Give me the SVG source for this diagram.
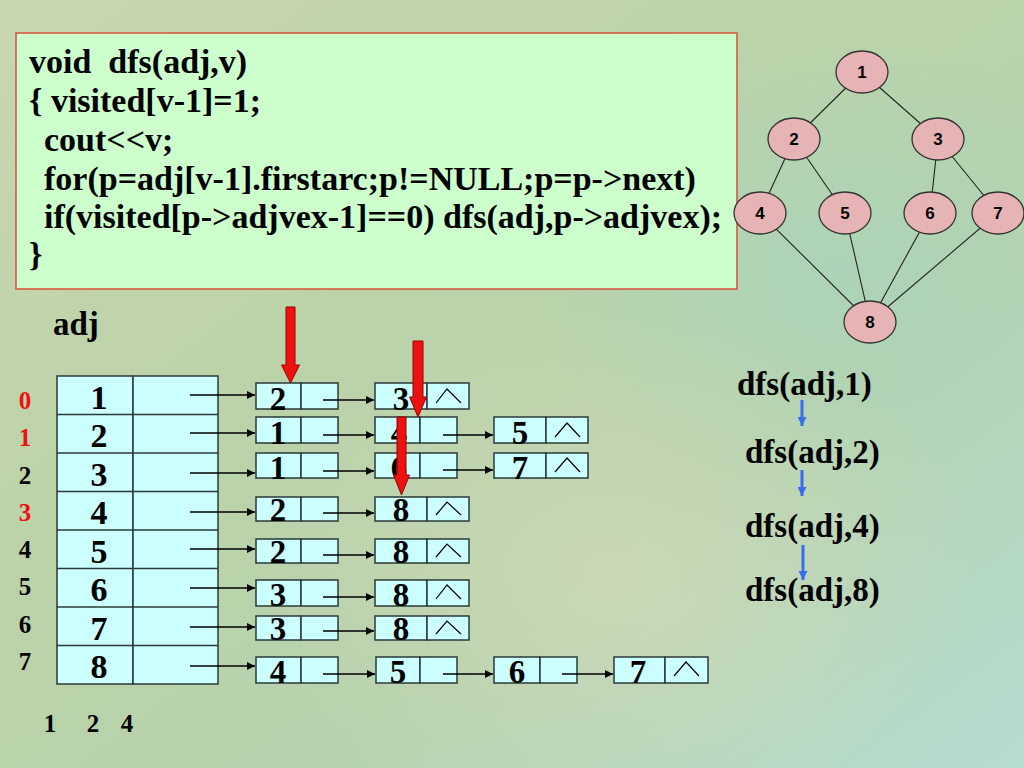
<svg xmlns="http://www.w3.org/2000/svg" width="1024" height="768" viewBox="0 0 1024 768">
<defs>
<linearGradient id="bg" x1="0" y1="0" x2="1" y2="1">
<stop offset="0" stop-color="#c9d6b2"/>
<stop offset="0.35" stop-color="#bcd3a8"/>
<stop offset="0.65" stop-color="#b6d2ae"/>
<stop offset="1" stop-color="#b5dcd0"/>
</linearGradient>
<radialGradient id="glow1" cx="0.82" cy="0.35" r="0.3">
<stop offset="0" stop-color="#a8d4bc" stop-opacity="0.7"/>
<stop offset="1" stop-color="#a8d4bc" stop-opacity="0"/>
</radialGradient>
<radialGradient id="glow2" cx="0.6" cy="0.75" r="0.35">
<stop offset="0" stop-color="#d6dcb8" stop-opacity="0.6"/>
<stop offset="1" stop-color="#d6dcb8" stop-opacity="0"/>
</radialGradient>
<marker id="ah" viewBox="0 0 10 10" refX="10" refY="5" markerWidth="10" markerHeight="8" markerUnits="userSpaceOnUse" orient="auto">
<path d="M0,0 L10,5 L0,10 z" fill="#000"/>
</marker>
<marker id="bh" viewBox="0 0 10 10" refX="10" refY="5" markerWidth="10" markerHeight="9" markerUnits="userSpaceOnUse" orient="auto">
<path d="M0,0 L10,5 L0,10 z" fill="#3a6cf0"/>
</marker>
<style>
.code{font-family:"Liberation Serif","Times New Roman",serif;font-weight:bold;font-size:34px;fill:#000;white-space:pre}
.big{font-family:"Liberation Serif","Times New Roman",serif;font-weight:bold;font-size:33px;fill:#000}
.dig{font-family:"Liberation Serif","Times New Roman",serif;font-weight:bold;font-size:33px;fill:#000;text-anchor:middle}
.tdig{font-family:"Liberation Serif","Times New Roman",serif;font-weight:bold;font-size:34px;fill:#000;text-anchor:middle}
.idx{font-family:"Liberation Serif","Times New Roman",serif;font-weight:bold;font-size:25px;fill:#000;text-anchor:middle}
.red{fill:#ee1111}
.cell{fill:#ccffff;stroke:#2a3a3a;stroke-width:1.5}
.nul{fill:none;stroke:#000;stroke-width:1.2}
.ptr{stroke:#000;stroke-width:1.3;fill:none;marker-end:url(#ah)}
.gv{fill:#e6b4b4;stroke:#333;stroke-width:1.3}
.gl{font-family:"Liberation Sans",Arial,sans-serif;font-weight:bold;font-size:17px;fill:#000;text-anchor:middle}
.ge{stroke:#222;stroke-width:1.1}
.rarr{fill:#ee1111;stroke:#990000;stroke-width:1}
.blu{stroke:#3a6cf0;stroke-width:3;fill:none;marker-end:url(#bh)}
</style>
</defs>
<rect width="1024" height="768" fill="url(#bg)"/>
<rect width="1024" height="768" fill="url(#glow1)"/>
<rect width="1024" height="768" fill="url(#glow2)"/>

<g id="code">
<rect x="16" y="33" width="721" height="256" fill="#ccffcc" stroke="#d8503c" stroke-width="1.5"/>
<text class="code" x="29" y="73">void  dfs(adj,v)</text>
<text class="code" x="29" y="112">{ visited[v-1]=1;</text>
<text class="code" x="44" y="151">cout&lt;&lt;v;</text>
<text class="code" x="44" y="190">for(p=adj[v-1].firstarc;p!=NULL;p=p-&gt;next)</text>
<text class="code" x="44" y="228">if(visited[p-&gt;adjvex-1]==0) dfs(adj,p-&gt;adjvex);</text>
<text class="code" x="29" y="266">}</text>
</g>

<g id="graph-edges">
<line class="ge" x1="862" y1="72" x2="794" y2="139"/>
<line class="ge" x1="862" y1="72" x2="938" y2="139"/>
<line class="ge" x1="794" y1="139" x2="760" y2="213"/>
<line class="ge" x1="794" y1="139" x2="845" y2="213"/>
<line class="ge" x1="938" y1="139" x2="930" y2="213"/>
<line class="ge" x1="938" y1="139" x2="998" y2="213"/>
<line class="ge" x1="760" y1="213" x2="870" y2="322"/>
<line class="ge" x1="845" y1="213" x2="870" y2="322"/>
<line class="ge" x1="930" y1="213" x2="870" y2="322"/>
<line class="ge" x1="998" y1="213" x2="870" y2="322"/>
</g>
<g id="v1"><ellipse class="gv" cx="862" cy="72" rx="26" ry="21"/><text class="gl" x="862" y="78">1</text></g>
<g id="v2"><ellipse class="gv" cx="794" cy="139" rx="26" ry="21"/><text class="gl" x="794" y="145">2</text></g>
<g id="v3"><ellipse class="gv" cx="938" cy="139" rx="26" ry="21"/><text class="gl" x="938" y="145">3</text></g>
<g id="v4"><ellipse class="gv" cx="760" cy="213" rx="26" ry="21"/><text class="gl" x="760" y="219">4</text></g>
<g id="v5"><ellipse class="gv" cx="845" cy="213" rx="26" ry="21"/><text class="gl" x="845" y="219">5</text></g>
<g id="v6"><ellipse class="gv" cx="930" cy="213" rx="26" ry="21"/><text class="gl" x="930" y="219">6</text></g>
<g id="v7"><ellipse class="gv" cx="998" cy="213" rx="26" ry="21"/><text class="gl" x="998" y="219">7</text></g>
<g id="v8"><ellipse class="gv" cx="870" cy="322" rx="26" ry="21"/><text class="gl" x="870" y="328">8</text></g>

<text class="big" x="53" y="335">adj</text>

<g id="indices">
<text class="idx red" x="25" y="409">0</text>
<text class="idx red" x="25" y="446">1</text>
<text class="idx" x="25" y="484">2</text>
<text class="idx red" x="25" y="521">3</text>
<text class="idx" x="25" y="558">4</text>
<text class="idx" x="25" y="595">5</text>
<text class="idx" x="25" y="633">6</text>
<text class="idx" x="25" y="670">7</text>
</g>

<g id="table">
<rect class="cell" x="57" y="376" width="76" height="308"/>
<rect class="cell" x="133" y="376" width="85" height="308"/>
<g stroke="#2a3a3a" stroke-width="1.5">
<line x1="57" y1="414.5" x2="218" y2="414.5"/>
<line x1="57" y1="453" x2="218" y2="453"/>
<line x1="57" y1="491.5" x2="218" y2="491.5"/>
<line x1="57" y1="530" x2="218" y2="530"/>
<line x1="57" y1="568.5" x2="218" y2="568.5"/>
<line x1="57" y1="607" x2="218" y2="607"/>
<line x1="57" y1="645.5" x2="218" y2="645.5"/>
</g>
<text class="tdig" x="99" y="409">1</text>
<text class="tdig" x="99" y="447">2</text>
<text class="tdig" x="99" y="486">3</text>
<text class="tdig" x="99" y="524">4</text>
<text class="tdig" x="99" y="563">5</text>
<text class="tdig" x="99" y="601">6</text>
<text class="tdig" x="99" y="640">7</text>
<text class="tdig" x="99" y="678">8</text>
</g>

<g id="list-nodes">
<g id="n0a"><rect class="cell" x="256" y="383" width="45" height="26"/><rect class="cell" x="301" y="383" width="37" height="26"/><text class="dig" x="278" y="410">2</text></g>
<g id="n0b"><rect class="cell" x="375" y="383" width="52" height="26"/><rect class="cell" x="427" y="383" width="42" height="26"/><text class="dig" x="401" y="410">3</text><path class="nul" d="M436,403 L447,389 L461,403"/></g>
<g id="n1a"><rect class="cell" x="256" y="417" width="45" height="26"/><rect class="cell" x="301" y="417" width="37" height="26"/><text class="dig" x="278" y="444">1</text></g>
<g id="n1b"><rect class="cell" x="375" y="417" width="45" height="26"/><rect class="cell" x="420" y="417" width="37" height="26"/><text class="dig" x="399" y="444">4</text></g>
<g id="n1c"><rect class="cell" x="494" y="417" width="52" height="26"/><rect class="cell" x="546" y="417" width="42" height="26"/><text class="dig" x="520" y="444">5</text><path class="nul" d="M555,437 L567,423 L580,437"/></g>
<g id="n2a"><rect class="cell" x="256" y="453" width="45" height="25"/><rect class="cell" x="301" y="453" width="37" height="25"/><text class="dig" x="278" y="479">1</text></g>
<g id="n2b"><rect class="cell" x="375" y="453" width="45" height="25"/><rect class="cell" x="420" y="453" width="37" height="25"/><text class="dig" x="399" y="479">6</text></g>
<g id="n2c"><rect class="cell" x="494" y="453" width="52" height="25"/><rect class="cell" x="546" y="453" width="42" height="25"/><text class="dig" x="520" y="479">7</text><path class="nul" d="M555,472 L567,458 L580,472"/></g>
<g id="n3a"><rect class="cell" x="256" y="497" width="45" height="24"/><rect class="cell" x="301" y="497" width="37" height="24"/><text class="dig" x="278" y="521">2</text></g>
<g id="n3b"><rect class="cell" x="375" y="497" width="52" height="24"/><rect class="cell" x="427" y="497" width="42" height="24"/><text class="dig" x="401" y="521">8</text><path class="nul" d="M436,515 L447,502 L461,515"/></g>
<g id="n4a"><rect class="cell" x="256" y="539" width="45" height="24"/><rect class="cell" x="301" y="539" width="37" height="24"/><text class="dig" x="278" y="563">2</text></g>
<g id="n4b"><rect class="cell" x="375" y="539" width="52" height="24"/><rect class="cell" x="427" y="539" width="42" height="24"/><text class="dig" x="401" y="563">8</text><path class="nul" d="M436,557 L447,544 L461,557"/></g>
<g id="n5a"><rect class="cell" x="256" y="580" width="45" height="26"/><rect class="cell" x="301" y="580" width="37" height="26"/><text class="dig" x="278" y="606">3</text></g>
<g id="n5b"><rect class="cell" x="375" y="580" width="52" height="26"/><rect class="cell" x="427" y="580" width="42" height="26"/><text class="dig" x="401" y="606">8</text><path class="nul" d="M436,599 L447,585 L461,599"/></g>
<g id="n6a"><rect class="cell" x="256" y="616" width="45" height="24"/><rect class="cell" x="301" y="616" width="37" height="24"/><text class="dig" x="278" y="640">3</text></g>
<g id="n6b"><rect class="cell" x="375" y="616" width="52" height="24"/><rect class="cell" x="427" y="616" width="42" height="24"/><text class="dig" x="401" y="640">8</text><path class="nul" d="M436,634 L447,621 L461,634"/></g>
<g id="n7a"><rect class="cell" x="256" y="657" width="45" height="26"/><rect class="cell" x="301" y="657" width="37" height="26"/><text class="dig" x="278" y="683">4</text></g>
<g id="n7b"><rect class="cell" x="376" y="657" width="44" height="26"/><rect class="cell" x="420" y="657" width="37" height="26"/><text class="dig" x="398" y="683">5</text></g>
<g id="n7c"><rect class="cell" x="494" y="657" width="46" height="26"/><rect class="cell" x="540" y="657" width="37" height="26"/><text class="dig" x="517" y="683">6</text></g>
<g id="n7d"><rect class="cell" x="614" y="657" width="51" height="26"/><rect class="cell" x="665" y="657" width="43" height="26"/><text class="dig" x="638" y="683">7</text><path class="nul" d="M674,676 L686,662 L699,676"/></g>
</g>

<g id="connectors">
<line class="ptr" x1="190" y1="395" x2="255" y2="395"/>
<line class="ptr" x1="190" y1="433" x2="255" y2="433"/>
<line class="ptr" x1="190" y1="473" x2="255" y2="473"/>
<line class="ptr" x1="190" y1="512" x2="255" y2="512"/>
<line class="ptr" x1="190" y1="549" x2="255" y2="549"/>
<line class="ptr" x1="190" y1="588" x2="255" y2="588"/>
<line class="ptr" x1="190" y1="627" x2="255" y2="627"/>
<line class="ptr" x1="190" y1="666" x2="255" y2="666"/>
<line class="ptr" x1="323" y1="400" x2="374" y2="400"/>
<line class="ptr" x1="323" y1="435" x2="374" y2="435"/>
<line class="ptr" x1="323" y1="471" x2="374" y2="471"/>
<line class="ptr" x1="323" y1="513" x2="374" y2="513"/>
<line class="ptr" x1="323" y1="555" x2="374" y2="555"/>
<line class="ptr" x1="323" y1="597" x2="374" y2="597"/>
<line class="ptr" x1="323" y1="631" x2="374" y2="631"/>
<line class="ptr" x1="323" y1="674" x2="375" y2="674"/>
<line class="ptr" x1="443" y1="435" x2="493" y2="435"/>
<line class="ptr" x1="443" y1="470" x2="493" y2="470"/>
<line class="ptr" x1="443" y1="674" x2="493" y2="674"/>
<line class="ptr" x1="562" y1="674" x2="613" y2="674"/>
</g>

<g id="red-arrows">
<path class="rarr" d="M286,307 L295,307 L295,365 L299.5,365 L290.5,383 L281.5,365 L286,365 z"/>
<path class="rarr" d="M413,341 L423,341 L423,397 L426.5,397 L418,417 L409.5,397 L413,397 z"/>
<path class="rarr" d="M397,417 L406,417 L406,475 L409.5,475 L401.5,495 L393.5,475 L397,475 z"/>
</g>

<g id="calls">
<text class="big" x="737" y="395">dfs(adj,1)</text>
<text class="big" x="745" y="463">dfs(adj,2)</text>
<text class="big" x="745" y="537">dfs(adj,4)</text>
<text class="big" x="745" y="601">dfs(adj,8)</text>
<line class="blu" x1="802" y1="400" x2="802" y2="426"/>
<line class="blu" x1="802" y1="470" x2="802" y2="496"/>
<line class="blu" x1="803" y1="545" x2="803" y2="580"/>
</g>

<g id="order">
<text class="idx" x="50" y="732">1</text>
<text class="idx" x="93" y="732">2</text>
<text class="idx" x="127" y="732">4</text>
</g>
</svg>
